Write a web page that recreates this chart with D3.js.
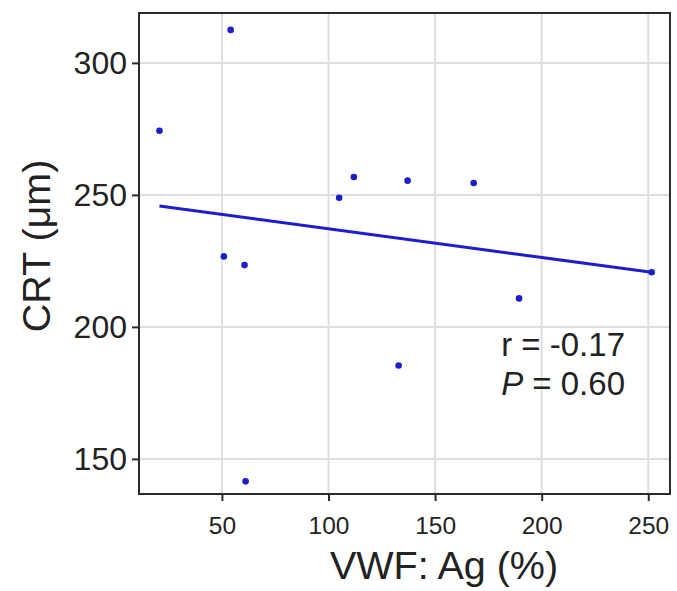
<!DOCTYPE html>
<html>
<head>
<meta charset="utf-8">
<script src="https://cdn.jsdelivr.net/npm/d3@7"></script>
<style>
  html, body { margin: 0; padding: 0; background: #fff; }
  svg { display: block; }
  text { font-family: "Liberation Sans", Arial, Helvetica, sans-serif; fill: #222; }
</style>
</head>
<body>
<svg id="chart" width="677" height="591"></svg>
<script>
// ---- data ----
const vwfAg = [20.7, 50.9, 54.1, 60.6, 61.1, 105.0, 111.9, 132.9, 137.1, 168.1, 189.4, 251.6];
const crt   = [274.3, 226.7, 312.5, 223.4, 141.5, 248.9, 256.8, 185.4, 255.4, 254.5, 210.8, 220.7];
const fitX  = [20.7, 251.6];
const fitY  = [245.8, 220.7];
const xTicks = [50, 100, 150, 200, 250];
const yTicks = [150, 200, 250, 300];
const xDomain = [11.1, 260.2];
const yDomain = [136.7, 318.9];
const xTitle = "VWF: Ag (%)";
const yTitle = "CRT (\u03bcm)";
const statR = "r = -0.17";
const statP = "0.60";

// ---- layout ----
const panel = { left: 139, right: 670, top: 13, bottom: 494 };
const svg = d3.select("#chart");
const x = d3.scaleLinear().domain(xDomain).range([panel.left, panel.right]);
const y = d3.scaleLinear().domain(yDomain).range([panel.bottom, panel.top]);

const blue = "#1d1dcc";
const gridCol = "#dedede";
const axisCol = "#2b2b2b";

// grid
svg.append("g").selectAll("line").data(xTicks).join("line")
  .attr("x1", d => x(d)).attr("x2", d => x(d))
  .attr("y1", panel.top).attr("y2", panel.bottom)
  .attr("stroke", gridCol).attr("stroke-width", 2);
svg.append("g").selectAll("line").data(yTicks).join("line")
  .attr("y1", d => y(d)).attr("y2", d => y(d))
  .attr("x1", panel.left).attr("x2", panel.right)
  .attr("stroke", gridCol).attr("stroke-width", 2);

// axes (ticks + labels) via d3 axes
const xAxis = svg.append("g")
  .attr("transform", `translate(0,${panel.bottom})`)
  .call(d3.axisBottom(x).tickValues(xTicks).tickSize(7).tickPadding(20).tickFormat(d3.format("d")));
xAxis.select(".domain").remove();
xAxis.selectAll(".tick line").attr("stroke", axisCol).attr("stroke-width", 2);
xAxis.selectAll(".tick text").attr("font-size", 24.5).attr("fill", "#222")
  .attr("font-family", "Liberation Sans, Arial, sans-serif").attr("dy", "0.55em");

const yAxis = svg.append("g")
  .attr("transform", `translate(${panel.left},0)`)
  .call(d3.axisLeft(y).tickValues(yTicks).tickSize(7).tickPadding(5).tickFormat(d3.format("d")));
yAxis.select(".domain").remove();
yAxis.selectAll(".tick line").attr("stroke", axisCol).attr("stroke-width", 2);
yAxis.selectAll(".tick text").attr("font-size", 32).attr("fill", "#222")
  .attr("font-family", "Liberation Sans, Arial, sans-serif").attr("dy", "0.34em");

// panel border
svg.append("rect")
  .attr("x", panel.left).attr("y", panel.top)
  .attr("width", panel.right - panel.left).attr("height", panel.bottom - panel.top)
  .attr("fill", "none").attr("stroke", axisCol).attr("stroke-width", 2);

// regression line
const line = d3.line().x(d => x(d[0])).y(d => y(d[1]));
svg.append("path")
  .datum(fitX.map((v, i) => [v, fitY[i]]))
  .attr("d", line)
  .attr("fill", "none").attr("stroke", blue).attr("stroke-width", 3);

// points
svg.append("g").selectAll("circle").data(vwfAg.map((v, i) => [v, crt[i]])).join("circle")
  .attr("cx", d => x(d[0])).attr("cy", d => y(d[1]))
  .attr("r", 3.3).attr("fill", blue);

// stats annotation
svg.append("text").attr("x", 625).attr("y", 356).attr("text-anchor", "end")
  .attr("font-size", 33).text(statR);
const pt = svg.append("text").attr("x", 625).attr("y", 395).attr("text-anchor", "end")
  .attr("font-size", 33);
pt.append("tspan").attr("font-style", "italic").text("P");
pt.append("tspan").text(" = " + statP);

// axis titles
svg.append("text").attr("x", 444).attr("y", 579).attr("text-anchor", "middle")
  .attr("font-size", 39.5).text(xTitle);
svg.append("text").attr("transform", "translate(50,246) rotate(-90)")
  .attr("text-anchor", "middle").attr("font-size", 39.5).text(yTitle);
</script>
</body>
</html>
